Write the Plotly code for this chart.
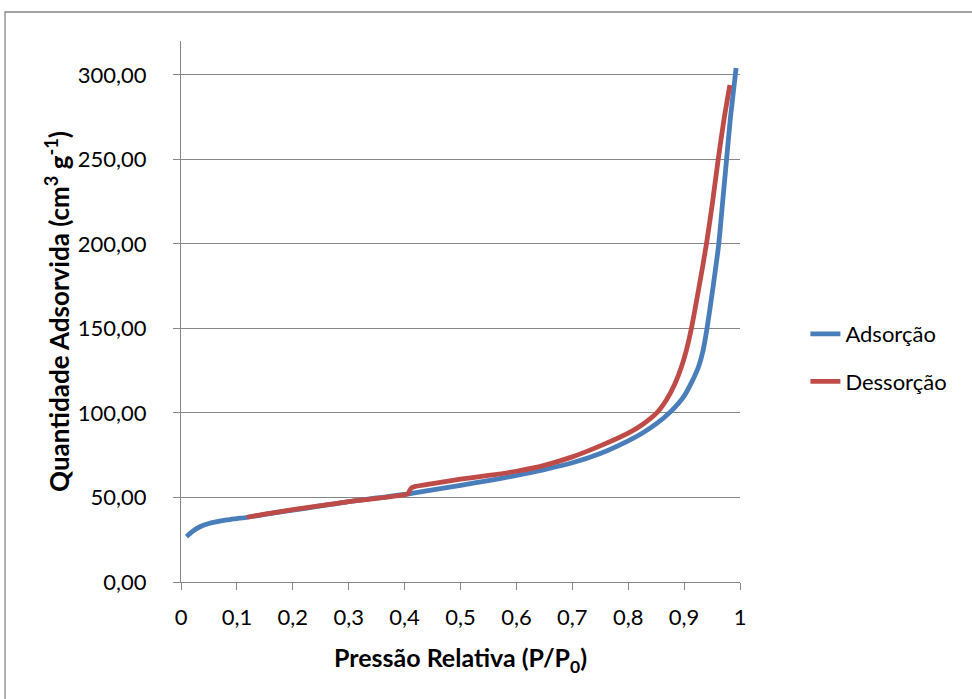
import plotly.graph_objects as go

# Adsorção (blue)
ads_p = [0.010, 0.020, 0.034, 0.050, 0.082, 0.100, 0.119, 0.150, 0.200, 0.250, 0.300,
         0.350, 0.400, 0.450, 0.500, 0.550, 0.600, 0.650, 0.700, 0.750, 0.800, 0.825,
         0.850, 0.875, 0.900, 0.914, 0.926, 0.934, 0.941, 0.952, 0.962, 0.969, 0.976, 0.983, 0.993]
ads_v = [26.8, 29.8, 32.7, 34.6, 36.7, 37.5, 38.3, 40.0, 42.5, 45.0, 47.5,
         49.7, 51.8, 54.5, 57.2, 60.0, 63.0, 66.5, 70.5, 76.0, 83.5, 88.0,
         93.5, 100.5, 110.0, 118.5, 127.5, 137.0, 150.0, 175.0, 200.0, 225.0, 250.0, 275.0, 304.0]

# Dessorção (red)
des_p = [0.982, 0.972, 0.961, 0.951, 0.940, 0.927, 0.913, 0.904, 0.895, 0.884, 0.868,
         0.851, 0.825, 0.800, 0.750, 0.700, 0.650, 0.600, 0.550, 0.500, 0.450, 0.418,
         0.412, 0.409, 0.406, 0.400, 0.350, 0.300, 0.250, 0.200, 0.150, 0.118]
des_v = [294.0, 275.0, 250.0, 225.0, 200.0, 175.0, 150.0, 137.0, 127.0, 117.6, 107.5,
         100.0, 93.0, 88.0, 80.5, 74.0, 69.0, 65.5, 63.0, 60.8, 58.2, 56.4,
         55.6, 54.0, 52.2, 51.6, 49.4, 47.6, 45.2, 42.8, 40.2, 38.3]

x_ticks = [0, 0.1, 0.2, 0.3, 0.4, 0.5, 0.6, 0.7, 0.8, 0.9, 1]
x_tick_text = ["0", "0,1", "0,2", "0,3", "0,4", "0,5", "0,6", "0,7", "0,8", "0,9", "1"]

FONT = "Lato"
GRAY = "#868686"

fig = go.Figure()
fig.add_trace(go.Scatter(x=ads_p, y=ads_v, mode="lines", name="Adsorção",
                         legendgroup="a",
                         line=dict(color="#4A7EBB", width=4.8, shape="spline", smoothing=0.6)))
fig.add_trace(go.Scatter(x=des_p, y=des_v, mode="lines", name="Dessorção",
                         legendgroup="d",
                         line=dict(color="#BE4B48", width=4.8, shape="spline", smoothing=0.6)))

fig.update_layout(
    width=972, height=699,
    margin=dict(l=181, r=232, t=41, b=117),
    paper_bgcolor="white", plot_bgcolor="white",
    separators=",.",
    font=dict(family=FONT, size=22, color="black"),
    legend=dict(x=1.117, y=0.414, xanchor="left", yanchor="middle",
                font=dict(family=FONT, size=22), traceorder="grouped",
                tracegroupgap=16, bgcolor="rgba(0,0,0,0)"),
    xaxis=dict(range=[0, 1], tickvals=x_ticks, ticktext=x_tick_text,
               showgrid=False, zeroline=False, showline=True, linecolor=GRAY, linewidth=1,
               ticks="outside", ticklen=7, tickcolor=GRAY, tickwidth=1,
               ticklabelstandoff=9,
               tickfont=dict(family=FONT, size=22),
               title=dict(text="<b>Pressão Relativa (P/P<sub>0</sub>)</b>",
                          font=dict(family=FONT, size=25), standoff=20)),
    yaxis=dict(range=[0, 320], tick0=0, dtick=50, tickformat=".2f",
               showgrid=True, gridcolor=GRAY, gridwidth=1,
               zeroline=False, showline=True, linecolor=GRAY, linewidth=1,
               ticks="outside", ticklen=7, tickcolor=GRAY, tickwidth=1,
               ticklabelstandoff=22,
               tickfont=dict(family=FONT, size=22),
               title=dict(text="<b>Quantidade Adsorvida (cm<sup>3</sup> g<sup>-1</sup>)</b>",
                          font=dict(family=FONT, size=26), standoff=0)),
    shapes=[dict(type="rect", xref="paper", yref="paper",
                 x0=-0.3148, x1=1.43, y0=-0.24, y1=1.0536,
                 line=dict(color=GRAY, width=1.3), fillcolor="rgba(0,0,0,0)", layer="below")],
)

fig.write_html("out.html")
